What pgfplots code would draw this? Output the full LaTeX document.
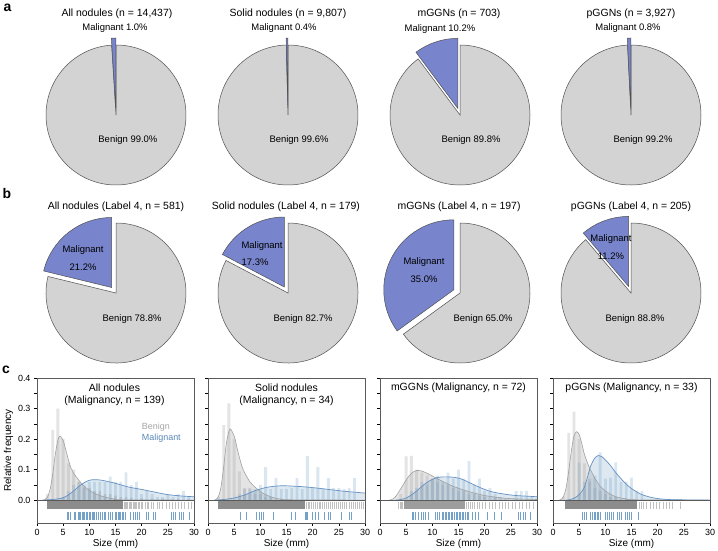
\documentclass[border=0pt]{standalone}
\usepackage{pgfplots}
\pgfplotsset{compat=1.18}
\usepackage{fontspec}
\setmainfont{Liberation Sans}
\definecolor{benignpie}{RGB}{211,211,211}
\definecolor{malpie}{RGB}{120,133,204}
\definecolor{pieedge}{RGB}{80,80,80}
\definecolor{bgray}{RGB}{165,165,165}
\definecolor{bline}{RGB}{160,160,160}
\definecolor{mblue}{RGB}{70,130,180}
\definecolor{mline}{RGB}{100,145,195}
\definecolor{mtext}{RGB}{90,135,185}
\definecolor{axgray}{RGB}{90,90,90}
\definecolor{rugdark}{RGB}{140,140,140}

\newcommand{\piewedges}[1]{%
  \filldraw[fill=benignpie, draw=pieedge, line width=0.5bp] (axis cs:0,0) -- (axis cs:{cos(90+3.6*#1)},{sin(90+3.6*#1)}) arc[start angle={90+3.6*#1}, end angle=450, radius=70bp] -- cycle;
  \filldraw[fill=malpie, draw=pieedge, line width=0.5bp] (axis cs:{0.1*cos(90+1.8*#1)},{0.1*sin(90+1.8*#1)}) -- (axis cs:{0.1*cos(90+1.8*#1)},{1+0.1*sin(90+1.8*#1)}) arc[start angle=90, end angle={90+3.6*#1}, radius=70bp] -- cycle;
}
\newcommand{\pt}{\fontsize{10.5}{12}\selectfont}
\newcommand{\pl}{\fontsize{9.5}{11}\selectfont}

\pgfplotsset{
  pieax/.style={hide axis, anchor=south west, x=70bp, y=70bp, xmin=-1.3, xmax=1.3, ymin=-1.3, ymax=1.3, clip=false},
  histax/.style={anchor=south west, width=157bp, height=145bp, scale only axis,
    xmin=0, xmax=30, ymin=-0.075, ymax=0.4,
    xtick={0,5,...,30}, ytick={0,0.1,0.2,0.3,0.4}, minor ytick={0.05,0.15,0.25,0.35},
    tick align=outside, xtick pos=left, ytick pos=left,
    major tick length=3bp, minor tick length=3bp,
    tick style={black, line width=0.4bp}, minor tick style={black, line width=0.4bp},
    axis line style={draw=axgray, line width=0.6bp},
    tick label style={font=\fontsize{9}{10}\selectfont},
    label style={font=\fontsize{10}{12}\selectfont},
    yticklabel style={/pgf/number format/fixed, /pgf/number format/precision=1, /pgf/number format/fixed zerofill},
    /pgf/number format/assume math mode=true,
    xlabel={Size (mm)}, xlabel style={yshift=3bp}, clip=true},
  gbar/.style={ybar, bar width=0.55, bar shift=0pt, fill=bgray, fill opacity=0.3, draw=none, forget plot},
  mbar/.style={ybar, bar width=0.55, bar shift=0pt, fill=mblue, fill opacity=0.2, draw=none, forget plot},
  gkfill/.style={fill=bgray, fill opacity=0.3, draw=none, smooth, forget plot},
  mkfill/.style={fill=mblue, fill opacity=0.18, draw=none, smooth, forget plot},
  gkline/.style={draw=bline, line width=0.6bp, smooth, no marks, forget plot},
  mkline/.style={draw=mline, line width=0.7bp, smooth, no marks, forget plot},
  grug/.style={only marks, mark=|, mark size=3.7bp, mark options={draw=rugdark, line width=0.5bp, draw opacity=0.55}, forget plot},
  mrug/.style={only marks, mark=|, mark size=3.9bp, mark options={draw=mblue, line width=0.5bp, draw opacity=0.75}, forget plot},
  gband/.style={fill=rugdark, draw=none, forget plot},
}

\begin{document}
\begin{tikzpicture}
\useasboundingbox (0,0) rectangle (718bp,-551bp);
\node[font=\fontsize{14}{14}\selectfont\bfseries] at (7.5bp,-7.5bp) {a};
\node[font=\fontsize{14}{14}\selectfont\bfseries] at (7bp,-194bp) {b};
\node[font=\fontsize{14}{14}\selectfont\bfseries] at (6bp,-370bp) {c};

% ---------- row a ----------
\begin{axis}[pieax, at={(25bp,-206bp)}]
\piewedges{1.0}
\node[font=\pt] at (axis cs:0.014,1.443) {All nodules (n = 14,437)};
\node[font=\pl] at (axis cs:-0.014,1.243) {Malignant 1.0\%};
\node[font=\pl] at (axis cs:0.17,-0.357) {Benign 99.0\%};
\end{axis}
\begin{axis}[pieax, at={(197bp,-206bp)}]
\piewedges{0.4}
\node[font=\pt] at (axis cs:0,1.443) {Solid nodules (n = 9,807)};
\node[font=\pl] at (axis cs:-0.057,1.243) {Malignant 0.4\%};
\node[font=\pl] at (axis cs:0.157,-0.357) {Benign 99.6\%};
\end{axis}
\begin{axis}[pieax, at={(369bp,-206bp)}]
\piewedges{10.2}
\node[font=\pt] at (axis cs:-0.014,1.443) {mGGNs (n = 703)};
\node[font=\pl] at (axis cs:-0.286,1.229) {Malignant 10.2\%};
\node[font=\pl] at (axis cs:0.157,-0.357) {Benign 89.8\%};
\end{axis}
\begin{axis}[pieax, at={(540bp,-206bp)}]
\piewedges{0.8}
\node[font=\pt] at (axis cs:0,1.443) {pGGNs (n = 3,927)};
\node[font=\pl] at (axis cs:-0.043,1.243) {Malignant 0.8\%};
\node[font=\pl] at (axis cs:0.171,-0.357) {Benign 99.2\%};
\end{axis}

% ---------- row b ----------
\begin{axis}[pieax, at={(25bp,-384bp)}]
\piewedges{21.2}
\node[font=\pt] at (axis cs:0,1.229) {All nodules (Label 4, n = 581)};
\node[font=\pl] at (axis cs:-0.471,0.614) {Malignant};
\node[font=\pl] at (axis cs:-0.471,0.371) {21.2\%};
\node[font=\pl] at (axis cs:0.229,-0.371) {Benign 78.8\%};
\end{axis}
\begin{axis}[pieax, at={(197bp,-384bp)}]
\piewedges{17.3}
\node[font=\pt] at (axis cs:-0.03,1.229) {Solid nodules (Label 4, n = 179)};
\node[font=\pl] at (axis cs:-0.371,0.671) {Malignant};
\node[font=\pl] at (axis cs:-0.471,0.443) {17.3\%};
\node[font=\pl] at (axis cs:0.214,-0.371) {Benign 82.7\%};
\end{axis}
\begin{axis}[pieax, at={(369bp,-384bp)}]
\piewedges{35.0}
\node[font=\pt] at (axis cs:-0.014,1.229) {mGGNs (Label 4, n = 197)};
\node[font=\pl] at (axis cs:-0.514,0.443) {Malignant};
\node[font=\pl] at (axis cs:-0.514,0.2) {35.0\%};
\node[font=\pl] at (axis cs:0.329,-0.371) {Benign 65.0\%};
\end{axis}
\begin{axis}[pieax, at={(540bp,-384bp)}]
\piewedges{11.2}
\node[font=\pt] at (axis cs:0,1.229) {pGGNs (Label 4, n = 205)};
\node[font=\pl] at (axis cs:-0.286,0.771) {Malignant};
\node[font=\pl] at (axis cs:-0.286,0.529) {11.2\%};
\node[font=\pl] at (axis cs:0.057,-0.371) {Benign 88.8\%};
\end{axis}

% ---------- row c, panel 1 ----------
\begin{axis}[histax, at={(37bp,-523bp)}, ylabel={Relative frequency}, ylabel style={yshift=-2bp}]
\addplot[gbar] coordinates {(2,0.02)(3,0.23)(4,0.30)(5,0.20)(6,0.12)(7,0.10)(8,0.06)(9,0.05)(10,0.04)(11,0.03)(12,0.03)(13,0.02)(14,0.02)(15,0.015)(16,0.01)(17,0.01)(18,0.008)(20,0.006)(22,0.005)(24,0.004)(27,0.003)(29,0.003)};
\addplot[mbar] coordinates {(5,0.01)(6,0.03)(7,0.05)(8,0.06)(9,0.04)(10,0.06)(11,0.06)(12,0.06)(13,0.06)(14,0.077)(15,0.06)(16,0.06)(17,0.091)(18,0.05)(19,0.06)(20,0.02)(21,0.03)(22,0.02)(23,0.01)(24,0.01)(25,0.02)(26,0.01)(27,0.02)(28,0.03)(29,0.01)};
\addplot[gkfill] coordinates {(1.0,0)(1.5,0.002)(2,0.01)(2.5,0.035)(3,0.085)(3.5,0.15)(4,0.197)(4.4,0.21)(5,0.195)(5.5,0.165)(6,0.132)(6.5,0.105)(7,0.088)(8,0.065)(9,0.045)(10,0.032)(11,0.022)(12,0.015)(13,0.01)(14,0.006)(15,0.003)(16,0.001)(30,0)} \closedcycle;
\addplot[mkfill] coordinates {(1.5,0)(2,0.001)(3,0.002)(4,0.004)(5,0.008)(6,0.017)(7,0.03)(8,0.045)(9,0.057)(10,0.065)(11,0.067)(12,0.066)(13,0.063)(14,0.059)(15,0.055)(16,0.05)(17,0.045)(18,0.041)(19,0.038)(20,0.035)(22,0.028)(24,0.021)(25,0.018)(26,0.016)(28,0.013)(30,0.011)} \closedcycle;
\addplot[gkline] coordinates {(1.0,0)(1.5,0.002)(2,0.01)(2.5,0.035)(3,0.085)(3.5,0.15)(4,0.197)(4.4,0.21)(5,0.195)(5.5,0.165)(6,0.132)(6.5,0.105)(7,0.088)(8,0.065)(9,0.045)(10,0.032)(11,0.022)(12,0.015)(13,0.01)(14,0.006)(15,0.003)(16,0.001)(30,0)};
\addplot[mkline] coordinates {(1.5,0)(2,0.001)(3,0.002)(4,0.004)(5,0.008)(6,0.017)(7,0.03)(8,0.045)(9,0.057)(10,0.065)(11,0.067)(12,0.066)(13,0.063)(14,0.059)(15,0.055)(16,0.05)(17,0.045)(18,0.041)(19,0.038)(20,0.035)(22,0.028)(24,0.021)(25,0.018)(26,0.016)(28,0.013)(30,0.011)};
\addplot[draw=axgray, line width=0.7bp, forget plot] coordinates {(0,0)(30,0)};
\addplot[gband] coordinates {(2.0,-0.0045)(16.5,-0.0045)(16.5,-0.0295)(2.0,-0.0295)} -- cycle;
\addplot[grug] table[header=false, x index=0, y expr=-0.017, row sep=\\] {16.7\\16.9\\17.1\\17.3\\17.6\\17.8\\18.0\\18.3\\18.5\\18.8\\19.0\\19.3\\19.6\\19.9\\20.2\\20.6\\21.0\\21.3\\21.8\\22.3\\22.9\\23.4\\24.0\\24.7\\25.2\\25.8\\26.4\\27.0\\27.6\\28.2\\28.9\\29.5\\};
\addplot[mrug] table[header=false, x index=0, y expr=-0.051, row sep=\\] {5.7\\6.0\\6.4\\7.1\\7.4\\7.8\\8.0\\8.3\\8.6\\8.8\\9.1\\9.4\\9.6\\9.9\\10.2\\10.5\\10.8\\11.0\\11.3\\11.7\\12.0\\12.4\\12.8\\13.1\\13.6\\14.0\\14.4\\14.9\\15.2\\15.5\\15.8\\16.0\\16.3\\16.5\\16.8\\17.9\\18.3\\18.8\\19.1\\19.5\\20.8\\21.2\\22.2\\22.6\\25.6\\26.0\\26.5\\27.2\\27.6\\28.0\\29.0\\};
\node[font=\fontsize{10.5}{12}\selectfont] at (axis cs:14.8,0.367) {All nodules};
\node[font=\fontsize{10.5}{12}\selectfont] at (axis cs:14.8,0.325) {(Malignancy, n = 139)};
\node[font=\fontsize{9}{10}\selectfont, text=bgray, anchor=west, inner sep=0pt] at (axis cs:20,0.24) {Benign};
\node[font=\fontsize{9}{10}\selectfont, text=mtext, anchor=west, inner sep=0pt] at (axis cs:20,0.204) {Malignant};
\end{axis}

% ---------- panel 2 ----------
\begin{axis}[histax, at={(208bp,-523bp)}, yticklabels={}]
\addplot[gbar] coordinates {(2,0.01)(3,0.246)(4,0.317)(5,0.20)(6,0.094)(7,0.04)(8,0.04)(9,0.02)(10,0.02)(11,0.01)(12,0.01)(14,0.005)};
\addplot[mbar] coordinates {(6,0.02)(7,0.037)(8,0.037)(9,0.036)(10,0.05)(11,0.108)(12,0.036)(13,0.072)(14,0.036)(15,0.036)(16,0.04)(17,0.072)(18,0.036)(19,0.145)(20,0.04)(21,0.108)(22,0.04)(23,0.072)(24,0.04)(25,0.04)(26,0.036)(27,0.04)(28,0.072)};
\addplot[gkfill] coordinates {(1.2,0)(1.5,0.002)(2,0.012)(2.5,0.045)(3,0.11)(3.5,0.185)(4,0.225)(4.3,0.233)(5,0.21)(5.5,0.175)(6,0.14)(6.5,0.11)(7,0.09)(8,0.06)(9,0.042)(10,0.028)(11,0.018)(12,0.011)(13,0.006)(14,0.003)(16,0.001)(30,0)} \closedcycle;
\addplot[mkfill] coordinates {(1.5,0)(3,0.002)(5,0.007)(7,0.017)(9,0.031)(11,0.041)(13,0.046)(14.5,0.047)(16,0.046)(18,0.044)(20,0.041)(22,0.037)(24,0.033)(26,0.029)(28,0.026)(30,0.023)} \closedcycle;
\addplot[gkline] coordinates {(1.2,0)(1.5,0.002)(2,0.012)(2.5,0.045)(3,0.11)(3.5,0.185)(4,0.225)(4.3,0.233)(5,0.21)(5.5,0.175)(6,0.14)(6.5,0.11)(7,0.09)(8,0.06)(9,0.042)(10,0.028)(11,0.018)(12,0.011)(13,0.006)(14,0.003)(16,0.001)(30,0)};
\addplot[mkline] coordinates {(1.5,0)(3,0.002)(5,0.007)(7,0.017)(9,0.031)(11,0.041)(13,0.046)(14.5,0.047)(16,0.046)(18,0.044)(20,0.041)(22,0.037)(24,0.033)(26,0.029)(28,0.026)(30,0.023)};
\addplot[draw=axgray, line width=0.7bp, forget plot] coordinates {(0,0)(30,0)};
\addplot[gband] coordinates {(2.0,-0.0045)(18.5,-0.0045)(18.5,-0.0295)(2.0,-0.0295)} -- cycle;
\addplot[grug] table[header=false, x index=0, y expr=-0.017, row sep=\\] {18.8\\19.1\\19.4\\19.8\\20.1\\20.4\\20.8\\21.2\\21.5\\21.9\\22.3\\22.6\\23.0\\23.4\\23.8\\24.1\\24.5\\24.9\\25.3\\25.7\\26.1\\26.5\\26.9\\27.3\\27.7\\28.1\\28.5\\28.9\\29.3\\29.7\\};
\addplot[mrug] table[header=false, x index=0, y expr=-0.051, row sep=\\] {6.1\\7.4\\9.2\\9.8\\10.2\\10.6\\12.4\\15.9\\16.7\\18.6\\18.8\\19.0\\20.0\\20.5\\21.0\\22.2\\22.9\\23.4\\25.5\\27.0\\27.4\\};
\node[font=\fontsize{10.5}{12}\selectfont] at (axis cs:15,0.367) {Solid nodules};
\node[font=\fontsize{10.5}{12}\selectfont] at (axis cs:15,0.325) {(Malignancy, n = 34)};
\end{axis}

% ---------- panel 3 ----------
\begin{axis}[histax, at={(380bp,-523bp)}, yticklabels={}]
\addplot[gbar] coordinates {(4,0.02)(5,0.143)(6,0.145)(7,0.10)(8,0.09)(9,0.08)(10,0.07)(11,0.06)(12,0.05)(13,0.05)(14,0.04)(15,0.03)(16,0.03)(17,0.02)(18,0.02)(19,0.015)(20,0.01)(22,0.01)(24,0.005)(26,0.005)};
\addplot[mbar] coordinates {(6,0.03)(7,0.04)(8,0.06)(9,0.05)(10,0.07)(11,0.08)(12,0.06)(13,0.09)(14,0.07)(15,0.10)(16,0.07)(17,0.128)(18,0.05)(19,0.07)(20,0.03)(21,0.04)(22,0.02)(23,0.01)(26,0.03)(27,0.03)(28,0.03)(29,0.01)};
\addplot[gkfill] coordinates {(1.8,0)(2.5,0.004)(3,0.012)(4,0.038)(5,0.066)(6,0.088)(7,0.097)(8,0.095)(9,0.088)(10,0.079)(11,0.07)(12,0.061)(13,0.053)(14,0.045)(15,0.039)(16,0.033)(17,0.028)(18,0.023)(19,0.019)(20,0.015)(22,0.01)(24,0.006)(26,0.004)(28,0.003)(30,0.002)} \closedcycle;
\addplot[mkfill] coordinates {(3,0)(4,0.002)(5,0.007)(6,0.017)(7,0.03)(8,0.045)(9,0.058)(10,0.068)(11,0.074)(12,0.076)(13,0.076)(14,0.075)(15,0.072)(16,0.066)(17,0.058)(18,0.05)(19,0.042)(20,0.035)(21,0.029)(22,0.025)(24,0.019)(26,0.015)(28,0.013)(30,0.011)} \closedcycle;
\addplot[gkline] coordinates {(1.8,0)(2.5,0.004)(3,0.012)(4,0.038)(5,0.066)(6,0.088)(7,0.097)(8,0.095)(9,0.088)(10,0.079)(11,0.07)(12,0.061)(13,0.053)(14,0.045)(15,0.039)(16,0.033)(17,0.028)(18,0.023)(19,0.019)(20,0.015)(22,0.01)(24,0.006)(26,0.004)(28,0.003)(30,0.002)};
\addplot[mkline] coordinates {(3,0)(4,0.002)(5,0.007)(6,0.017)(7,0.03)(8,0.045)(9,0.058)(10,0.068)(11,0.074)(12,0.076)(13,0.076)(14,0.075)(15,0.072)(16,0.066)(17,0.058)(18,0.05)(19,0.042)(20,0.035)(21,0.029)(22,0.025)(24,0.019)(26,0.015)(28,0.013)(30,0.011)};
\addplot[draw=axgray, line width=0.7bp, forget plot] coordinates {(0,0)(30,0)};
\addplot[fill=rugdark, fill opacity=0.85, draw=none, forget plot] coordinates {(4.5,-0.0045)(16.2,-0.0045)(16.2,-0.0295)(4.5,-0.0295)} -- cycle;
\addplot[grug] table[header=false, x index=0, y expr=-0.017, row sep=\\] {3.5\\3.8\\4.1\\4.3\\16.5\\16.8\\17.2\\17.6\\18.1\\18.5\\19.0\\19.6\\20.1\\20.8\\21.5\\22.1\\22.7\\23.4\\24.0\\24.6\\25.3\\25.9\\26.6\\27.2\\27.9\\28.5\\29.3\\};
\addplot[mrug] table[header=false, x index=0, y expr=-0.051, row sep=\\] {6.1\\6.4\\6.7\\7.4\\7.8\\8.2\\8.7\\9.2\\10.5\\11.0\\11.4\\11.8\\12.1\\12.4\\12.7\\13.0\\13.3\\13.6\\13.9\\14.2\\14.5\\14.8\\15.1\\15.4\\15.7\\16.0\\16.3\\16.6\\16.8\\17.7\\18.2\\18.7\\20.4\\21.8\\23.1\\26.4\\26.8\\27.3\\27.8\\28.7\\};
\node[font=\fontsize{10.5}{12}\selectfont] at (axis cs:15,0.367) {mGGNs (Malignancy, n = 72)};
\end{axis}

% ---------- panel 4 ----------
\begin{axis}[histax, at={(553bp,-523bp)}, yticklabels={}]
\addplot[gbar] coordinates {(2,0.01)(3,0.22)(4,0.29)(5,0.20)(6,0.12)(7,0.07)(8,0.04)(9,0.03)(10,0.02)(11,0.01)(12,0.01)(14,0.005)};
\addplot[mbar] coordinates {(5,0.123)(6,0.06)(7,0.06)(8,0.08)(9,0.156)(10,0.07)(11,0.074)(12,0.124)(13,0.06)(14,0.06)(15,0.074)(16,0.03)(17,0.03)};
\addplot[gkfill] coordinates {(1.2,0)(1.5,0.002)(2,0.012)(2.5,0.04)(3,0.095)(3.5,0.16)(4,0.21)(4.5,0.224)(5,0.215)(5.5,0.185)(6,0.15)(6.5,0.126)(7,0.105)(7.5,0.088)(8,0.072)(8.5,0.058)(9,0.046)(10,0.03)(11,0.019)(12,0.011)(13,0.007)(14,0.004)(16,0.001)(30,0)} \closedcycle;
\addplot[mkfill] coordinates {(2.5,0)(3,0.001)(4,0.006)(5,0.018)(5.9,0.039)(6.5,0.07)(7.2,0.112)(8,0.138)(8.7,0.146)(9.5,0.14)(10.2,0.128)(10.9,0.115)(12,0.09)(13,0.07)(14,0.052)(15,0.038)(16,0.027)(17,0.018)(18.5,0.01)(20,0.005)(22,0.002)(24,0.001)(30,0)} \closedcycle;
\addplot[gkline] coordinates {(1.2,0)(1.5,0.002)(2,0.012)(2.5,0.04)(3,0.095)(3.5,0.16)(4,0.21)(4.5,0.224)(5,0.215)(5.5,0.185)(6,0.15)(6.5,0.126)(7,0.105)(7.5,0.088)(8,0.072)(8.5,0.058)(9,0.046)(10,0.03)(11,0.019)(12,0.011)(13,0.007)(14,0.004)(16,0.001)(30,0)};
\addplot[mkline] coordinates {(2.5,0)(3,0.001)(4,0.006)(5,0.018)(5.9,0.039)(6.5,0.07)(7.2,0.112)(8,0.138)(8.7,0.146)(9.5,0.14)(10.2,0.128)(10.9,0.115)(12,0.09)(13,0.07)(14,0.052)(15,0.038)(16,0.027)(17,0.018)(18.5,0.01)(20,0.005)(22,0.002)(24,0.001)(30,0)};
\addplot[draw=axgray, line width=0.7bp, forget plot] coordinates {(0,0)(30,0)};
\addplot[gband] coordinates {(2.3,-0.0045)(16.0,-0.0045)(16.0,-0.0295)(2.3,-0.0295)} -- cycle;
\addplot[grug] table[header=false, x index=0, y expr=-0.017, row sep=\\] {16.4\\16.8\\17.3\\17.9\\18.5\\19.1\\19.7\\20.3\\21.0\\21.6\\22.2\\22.8\\24.4\\};
\addplot[mrug] table[header=false, x index=0, y expr=-0.051, row sep=\\] {5.5\\5.9\\6.3\\7.2\\7.5\\7.8\\8.1\\8.4\\8.7\\9.0\\10.0\\10.4\\10.8\\11.2\\11.6\\12.2\\12.6\\13.1\\13.8\\14.2\\14.6\\15.0\\16.3\\};
\node[font=\fontsize{10.5}{12}\selectfont] at (axis cs:15,0.367) {pGGNs (Malignancy, n = 33)};
\end{axis}
\end{tikzpicture}
\end{document}
